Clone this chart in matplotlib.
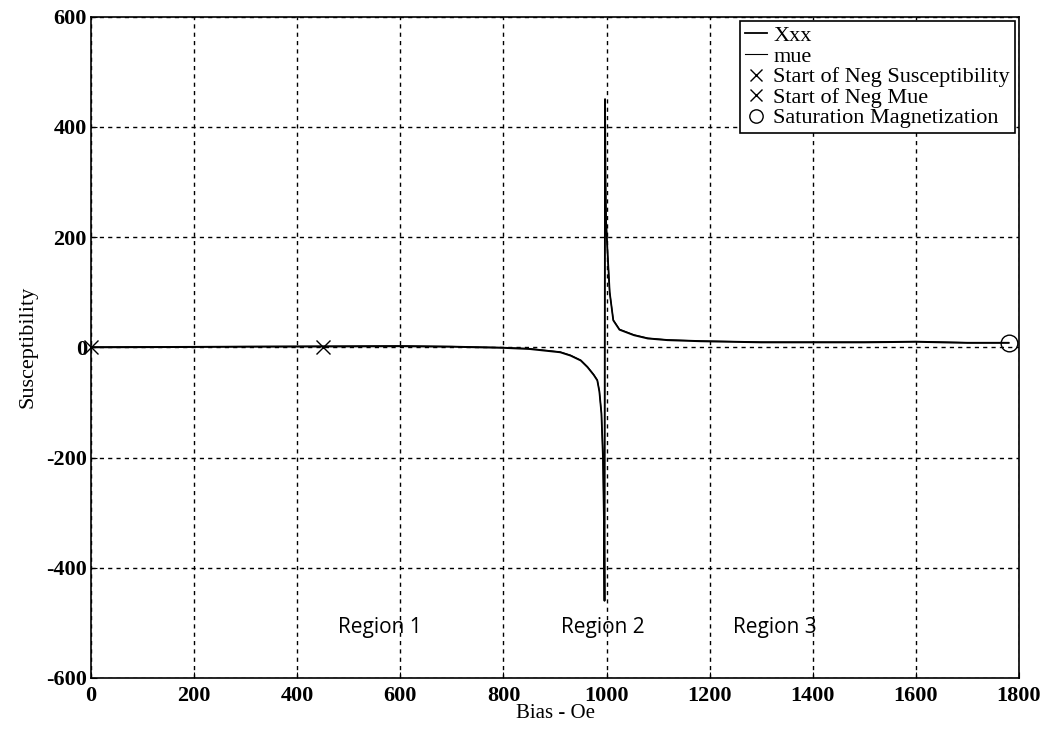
import matplotlib
matplotlib.use('Agg')
import matplotlib.pyplot as plt

# values
bias = [0, 100, 200, 300, 400, 500, 600, 700, 750, 800, 850, 880, 910, 930,
        950, 963, 975, 982, 986, 990, 993, 995, 996,
        997, 998, 999, 1002, 1006, 1013, 1025, 1053, 1080, 1118, 1183,
        1300, 1400, 1500, 1600, 1650, 1700, 1780]
xxx = [0, 0.3, 0.6, 1, 1.3, 1.6, 2, 1, 0, -1, -3, -6, -9, -15,
       -24, -36, -50, -60, -80, -120, -200, -320, -460,
       450, 300, 230, 170, 100, 49, 32, 22, 16, 13, 11,
       9, 9, 9, 10, 9, 8, 8]
mue = [v + 1 for v in xxx]

negSusc = [0, 0]
negMue = [450, 0]
satMag = [1780, 8]

regionNames = ['Region 1', 'Region 2', 'Region 3']
regionX = [561, 992, 1327]
regionY = -508

serif = ['Liberation Serif', 'DejaVu Serif']
plt.rcParams['axes.unicode_minus'] = False

fig = plt.figure(figsize=(10.49, 7.29), dpi=100)
ax = fig.add_axes([0.0868, 0.070, 0.8846, 0.907])

ax.plot(bias, xxx, 'k-', linewidth=1.3, label='Xxx')
ax.plot(bias, mue, 'k-', linewidth=0.8, label='mue')
ax.plot(negSusc[0], negSusc[1], 'kx', markersize=10, markeredgewidth=1.0,
        label='Start of Neg Susceptibility', clip_on=False)
ax.plot(negMue[0], negMue[1], 'kx', markersize=10, markeredgewidth=1.0,
        label='Start of Neg Mue')
ax.plot(satMag[0], satMag[1], 'ko', markerfacecolor='none', markersize=12,
        markeredgewidth=1.0, label='Saturation Magnetization', clip_on=False)

for name, rx in zip(regionNames, regionX):
    ax.text(rx, regionY, name, ha='center', va='center', fontsize=15,
            family=['Open Sans', 'DejaVu Sans'])

ax.set_xlim(0, 1800)
ax.set_ylim(-600, 600)
ax.set_xticks(range(0, 1801, 200))
ax.set_yticks(range(-600, 601, 200))
ax.grid(True, color='k', linestyle=(0, (3, 3)), linewidth=1.0)
ax.tick_params(direction='in', length=4, labelsize=16)
ax.tick_params(axis='x', pad=6)
ax.tick_params(axis='y', pad=3)
for lab in ax.get_xticklabels() + ax.get_yticklabels():
    lab.set_family(serif)
    lab.set_fontweight('bold')
for sp in ax.spines.values():
    sp.set_linewidth(1.2)

ax.set_xlabel('Bias - Oe', fontsize=15, family=serif, labelpad=-2)
ax.set_ylabel('Susceptibility', fontsize=16, family=serif, labelpad=6)

leg = ax.legend(loc='upper right', prop={'family': serif, 'size': 16},
                frameon=True, fancybox=False, edgecolor='k', framealpha=1,
                borderaxespad=0.2, handlelength=1.0, handletextpad=0.3,
                labelspacing=0.0, borderpad=0.2, markerscale=0.8)
leg.get_frame().set_linewidth(1.2)

fig.savefig('out.png', dpi=100)
